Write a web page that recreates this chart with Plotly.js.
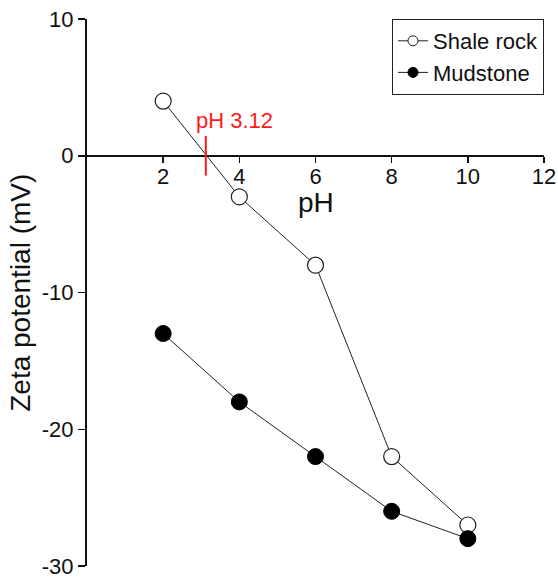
<!DOCTYPE html>
<html>
<head>
<meta charset="utf-8">
<script src="https://cdn.plot.ly/plotly-3.0.1.min.js"></script>
<style>
html,body{margin:0;padding:0;background:#fff;}
#chart{width:558px;height:579px;}
</style>
</head>
<body>
<div id="chart"></div>
<script>
// Data
const pH = [2, 4, 6, 8, 10];
const shaleRock = [4, -3, -8, -22, -27];
const mudstone = [-13, -18, -22, -26, -28];
const seriesNames = ["Shale rock", "Mudstone"];
const xTicks = [2, 4, 6, 8, 10, 12];
const yTicks = [-30, -20, -10, 0, 10];
const iepValue = 3.12;
const iepLabel = "pH 3.12";

const FONT = "Arial, 'Liberation Sans', sans-serif";

const traces = [
  {
    x: pH, y: shaleRock, name: seriesNames[0], mode: "lines+markers",
    line: {color: "#222", width: 1},
    marker: {symbol: "circle", size: 16, color: "#fff", line: {color: "#222", width: 1.2}},
    showlegend: false, cliponaxis: false
  },
  {
    x: pH, y: mudstone, name: seriesNames[1], mode: "lines+markers",
    line: {color: "#222", width: 1},
    marker: {symbol: "circle", size: 16, color: "#000", line: {color: "#000", width: 1}},
    showlegend: false, cliponaxis: false
  },
  // legend entries (smaller symbols as in the reference)
  {
    x: [null], y: [null], name: seriesNames[0], mode: "lines+markers",
    line: {color: "#222", width: 1},
    marker: {symbol: "circle", size: 10, color: "#fff", line: {color: "#222", width: 1}}
  },
  {
    x: [null], y: [null], name: seriesNames[1], mode: "lines+markers",
    line: {color: "#222", width: 1},
    marker: {symbol: "circle", size: 10, color: "#000", line: {color: "#000", width: 1}}
  }
];

const layout = {
  width: 558, height: 579,
  margin: {l: 87, r: 14, t: 19, b: 13},
  paper_bgcolor: "#fff", plot_bgcolor: "#fff",
  font: {family: FONT, size: 22, color: "#111"},
  showlegend: true,
  legend: {
    x: 1, xanchor: "right", y: 1, yanchor: "top",
    bordercolor: "#222", borderwidth: 1, bgcolor: "#fff",
    font: {family: FONT, size: 22, color: "#111"},
    itemwidth: 30, tracegroupgap: 0
  },
  xaxis: {
    range: [0, 12], anchor: "free", position: 0.75,
    tickvals: xTicks, ticktext: xTicks.map(String),
    ticks: "outside", ticklen: 6, tickwidth: 1.5, tickcolor: "#111",
    ticklabelstandoff: -5,
    showline: true, linecolor: "#111", linewidth: 2,
    showgrid: false, zeroline: false,
    tickfont: {family: FONT, size: 22, color: "#111"}
  },
  yaxis: {
    range: [-30, 10],
    tickvals: yTicks, ticktext: yTicks.map(String),
    ticks: "outside", ticklen: 7, tickwidth: 1.5, tickcolor: "#111",
    ticklabeloverflow: "allow",
    showline: true, linecolor: "#111", linewidth: 2,
    showgrid: false, zeroline: false,
    tickfont: {family: FONT, size: 22, color: "#111"}
  },
  shapes: [
    {type: "line", xref: "x", yref: "y", x0: iepValue, x1: iepValue, y0: -1.45, y1: 1.45,
     line: {color: "#ff1a1a", width: 2}}
  ],
  annotations: [
    {xref: "x", yref: "y", x: 2.82, y: 2.55, xanchor: "left", yanchor: "middle",
     text: iepLabel, showarrow: false, font: {family: FONT, size: 22, color: "#ff1a1a"}},
    {xref: "x", yref: "y", x: 6.02, y: -3.45, xanchor: "center", yanchor: "middle",
     text: "pH", showarrow: false, font: {family: FONT, size: 28, color: "#111"}},
    {xref: "paper", yref: "paper", x: -0.146, y: 0.5, xanchor: "center", yanchor: "middle",
     text: "Zeta potential (mV)", textangle: -90, showarrow: false,
     font: {family: FONT, size: 28, color: "#111"}}
  ]
};

Plotly.newPlot("chart", traces, layout, {displayModeBar: false, staticPlot: true});
</script>
</body>
</html>
